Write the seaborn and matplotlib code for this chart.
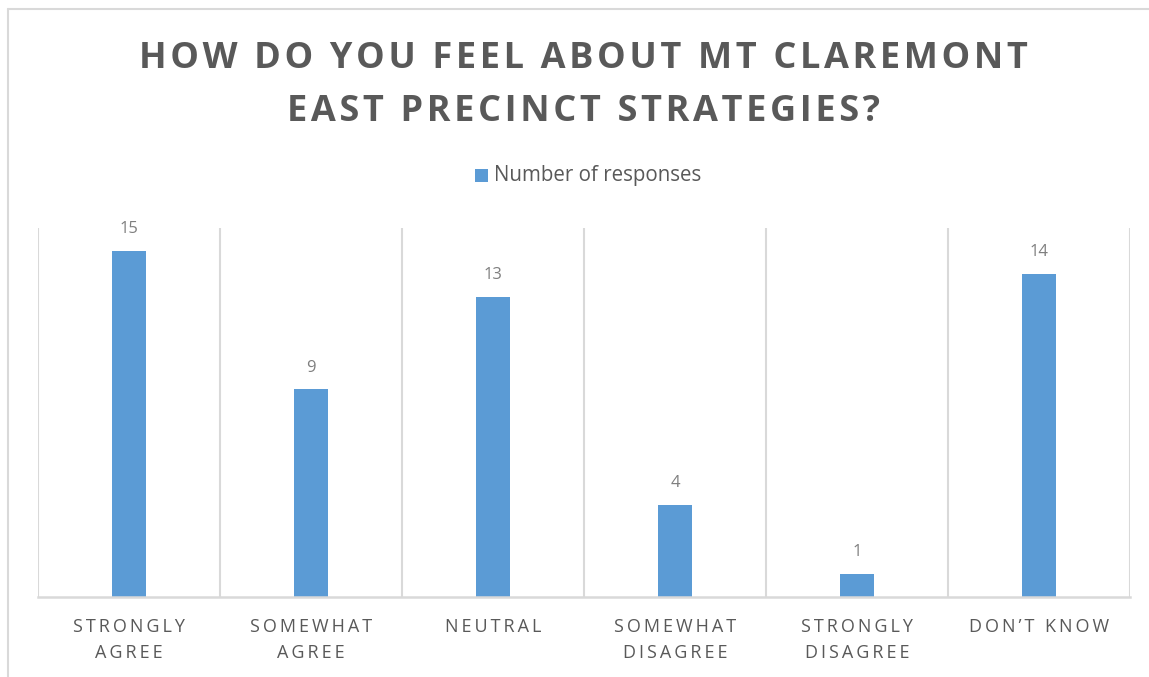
import matplotlib
matplotlib.use("Agg")
import matplotlib.pyplot as plt
from matplotlib.lines import Line2D
from matplotlib.patches import Rectangle
import seaborn as sns
import pandas as pd

categories = ["STRONGLY\nAGREE", "SOMEWHAT\nAGREE", "NEUTRAL",
              "SOMEWHAT\nDISAGREE", "STRONGLY\nDISAGREE", "DON’T KNOW"]
responses = [15, 9, 13, 4, 1, 14]
series_name = "Number of responses"
title_text = "HOW DO YOU FEEL ABOUT MT CLAREMONT\nEAST PRECINCT STRATEGIES?"

BAR = "#5B9BD5"
TEXT = "#595959"
GRID = "#D9D9D9"


def tracked(s, gap):
    """Widen letter spacing by putting a narrow space between characters."""
    return "\n".join(gap.join(line) for line in s.split("\n"))


sns.set_theme(style="white")
plt.rcParams["font.family"] = ["Open Sans", "DejaVu Sans"]

df = pd.DataFrame({"category": categories, "value": responses})

fig = plt.figure(figsize=(11.49, 6.77), dpi=100)
ax = fig.add_axes([38 / 1149, 1 - 597 / 677, (1130 - 38) / 1149, (597 - 228) / 677])

sns.barplot(data=df, x="category", y="value", color=BAR, width=0.19,
            saturation=1, ax=ax, edgecolor="none")

ax.set_ylim(0, 16)
ax.set_xlim(-0.5, len(categories) - 0.5)
ax.set_yticks([])
ax.set_xlabel("")
ax.set_ylabel("")

# category separators
for b in range(len(categories) + 1):
    ax.axvline(b - 0.5, color=GRID, lw=1.5, zorder=0)

for s in ["top", "left", "right"]:
    ax.spines[s].set_visible(False)
ax.spines["bottom"].set_color(GRID)
ax.spines["bottom"].set_linewidth(1.8)

ax.set_xticks(range(len(categories)))
ax.set_xticklabels([tracked(c, "\u2009") for c in categories])
ax.tick_params(axis="x", length=0, pad=15)
for lbl in ax.get_xticklabels():
    lbl.set_fontsize(13)
    lbl.set_color(TEXT)
    lbl.set_linespacing(1.55)

# value labels
for i, v in enumerate(responses):
    ax.annotate(f"{v}", (i, v), xytext=(0, 10), textcoords="offset points",
                ha="center", va="bottom", fontsize=12, color="#7F7F7F")

fig.text(583 / 1149, 1 - 85.5 / 677, tracked(title_text, "\u200a"),
         ha="center", va="center", fontsize=26, fontweight="bold",
         color=TEXT, linespacing=1.64)

# legend
fig.patches.append(Rectangle((475 / 1149, 1 - 182 / 677), 13 / 1149, 13 / 677,
                             transform=fig.transFigure, facecolor=BAR,
                             edgecolor="none"))
fig.text(494 / 1149, 1 - 175 / 677, series_name, ha="left", va="center",
         fontsize=14.8, color=TEXT)

# chart frame
fig.add_artist(Line2D([8 / 1149, 8 / 1149], [0, 1 - 9 / 677],
                      transform=fig.transFigure, color=GRID, lw=1.5))
fig.add_artist(Line2D([8 / 1149, 1], [1 - 9 / 677, 1 - 9 / 677],
                      transform=fig.transFigure, color=GRID, lw=1.5))

fig.savefig("out.png", dpi=100)
